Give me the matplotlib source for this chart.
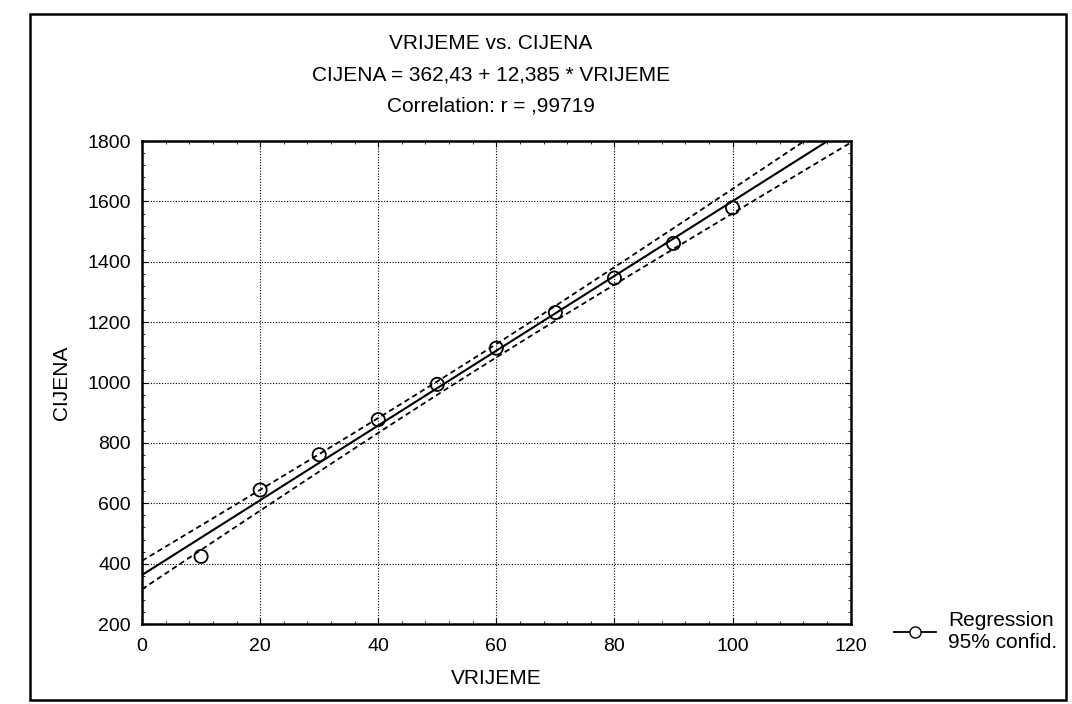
import matplotlib.pyplot as plt
import numpy as np
from matplotlib.ticker import AutoMinorLocator, MultipleLocator
from matplotlib.patches import Rectangle
from matplotlib.lines import Line2D

plt.rcParams['font.family'] = ['Liberation Sans', 'DejaVu Sans']

# data
vrijeme = np.array([10, 20, 30, 40, 50, 60, 70, 80, 90, 100])
cijena = np.array([424, 644, 761, 877, 994, 1114, 1232, 1346, 1461, 1579])

# fitted coefficients as printed in the title
intercept = 362.43
slope = 12.385

title_lines = ["VRIJEME vs. CIJENA",
               "CIJENA = 362,43 + 12,385 * VRIJEME",
               "Correlation: r = ,99719"]

fig = plt.figure(figsize=(10.72, 7.04), dpi=100)
ax = fig.add_axes([0.1325, 0.1136, 0.661, 0.686])

# regression line and 95% confidence band for the mean
xs = np.linspace(0, 120, 300)
ys = intercept + slope * xs
resid = cijena - (intercept + slope * vrijeme)
n = len(vrijeme)
s = np.sqrt(np.sum(resid ** 2) / (n - 2))
sxx = np.sum((vrijeme - vrijeme.mean()) ** 2)
t = 2.306
half = t * s * np.sqrt(1 / n + (xs - vrijeme.mean()) ** 2 / sxx)

ax.plot(xs, ys, color='black', lw=1.5)
ax.plot(xs, ys + half, color='black', lw=1.3, ls=(0, (3, 2)))
ax.plot(xs, ys - half, color='black', lw=1.3, ls=(0, (3, 2)))
ax.scatter(vrijeme, cijena, s=90, facecolors='none', edgecolors='black',
           linewidths=1.3, zorder=3)

ax.set_xlim(0, 120)
ax.set_ylim(200, 1800)
ax.xaxis.set_major_locator(MultipleLocator(20))
ax.yaxis.set_major_locator(MultipleLocator(200))
ax.xaxis.set_minor_locator(AutoMinorLocator(5))
ax.yaxis.set_minor_locator(AutoMinorLocator(5))
ax.tick_params(which='both', direction='in', top=True, right=True,
               labelsize=14)
ax.tick_params(axis='x', pad=10)
ax.tick_params(axis='y', pad=8)
ax.tick_params(which='major', length=4)
ax.tick_params(which='minor', length=2.5)
ax.grid(True, which='major', color='black', ls=(0, (1, 1.5)), lw=0.8)
for sp in ax.spines.values():
    sp.set_linewidth(1.8)

ax.set_xlabel("VRIJEME", fontsize=15, labelpad=10)
ax.set_ylabel("CIJENA", fontsize=15, labelpad=12)

# stacked title
for i, line in enumerate(title_lines):
    fig.text(0.458, 0.938 - i * 0.0445, line, ha='center', va='center',
             fontsize=15)

# legend
ax.legend([Line2D([], [], color='black', lw=1.3, marker='o',
                  markerfacecolor='white', markersize=8)],
          ["Regression\n95% confid."],
          loc='lower left', bbox_to_anchor=(1.035, -0.097),
          frameon=False, fontsize=15, handlelength=2.0,
          handletextpad=0.6, labelspacing=0.2)

# outer frame of the scanned figure
fig.patches.append(Rectangle((30 / 1072, 4 / 704), 1036 / 1072, 686 / 704,
                             transform=fig.transFigure, fill=False,
                             edgecolor='black', lw=1.8))

fig.savefig("out.png", dpi=100)
